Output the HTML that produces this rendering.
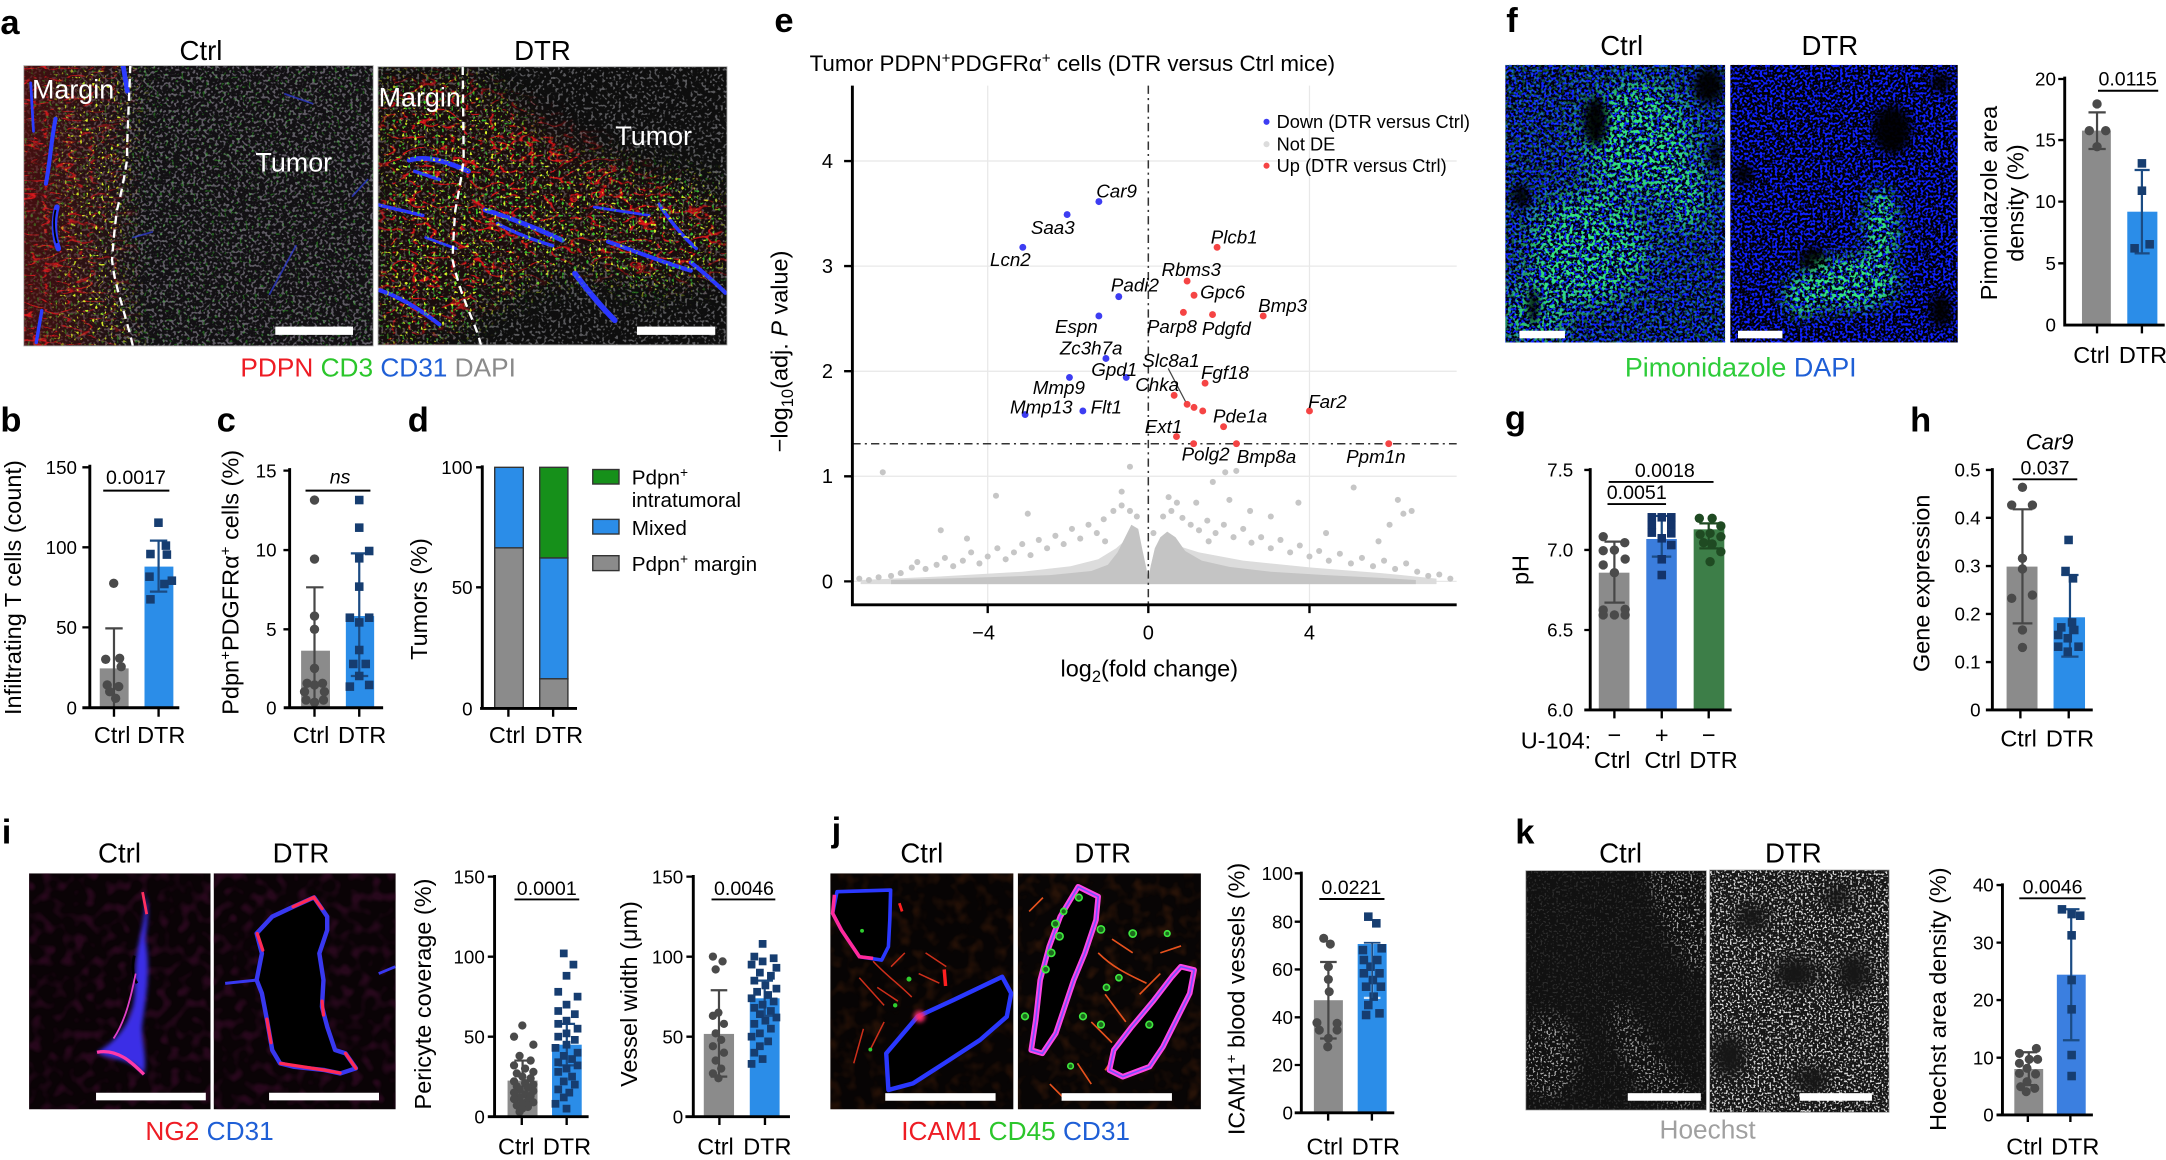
<!DOCTYPE html>
<html><head><meta charset="utf-8">
<style>
html,body{margin:0;padding:0;background:#fff;width:2166px;height:1160px;overflow:hidden}
svg{display:block}
text{font-family:"Liberation Sans",Arial,sans-serif}
.L{font-size:25px;font-weight:bold}
.T{font-size:13.6px;text-anchor:end}
.C{font-size:17px;text-anchor:middle}
.Y{font-size:17px;text-anchor:middle}
.S{font-size:14.2px;text-anchor:middle}
.H{font-size:20px;text-anchor:middle}
.ax{stroke:#000;stroke-width:2.1;fill:none}
.tk{stroke:#000;stroke-width:1.7;fill:none}
.sl{stroke:#000;stroke-width:1.4}
.eg{stroke:#474747;stroke-width:1.6;fill:none}
.en{stroke:#1b4b83;stroke-width:1.6;fill:none}
.pg{fill:#4a4a4a}
.pn{fill:#163d70}
.bg{fill:#8b8b8b}
.bb{fill:#2b8de8}
.gi{font-size:13.6px;font-style:italic}
</style></head><body>
<svg xmlns="http://www.w3.org/2000/svg" width="2166" height="1160" viewBox="0 0 1568 840">
<defs>
 <filter id="fNucG" x="0" y="0" width="1" height="1" color-interpolation-filters="sRGB">
  <feTurbulence type="fractalNoise" baseFrequency="0.5" numOctaves="1" seed="7"/>
  <feColorMatrix type="matrix" values="0 0 0 0 0.62 0 0 0 0 0.6 0 0 0 0 0.66 10 0 0 0 -5.3"/>
 </filter>
 <filter id="fNucG2" x="0" y="0" width="1" height="1" color-interpolation-filters="sRGB">
  <feTurbulence type="fractalNoise" baseFrequency="0.5" numOctaves="1" seed="19"/>
  <feColorMatrix type="matrix" values="0 0 0 0 0.55 0 0 0 0 0.55 0 0 0 0 0.57 10 0 0 0 -5.5"/>
 </filter>
 <filter id="fNucB" x="0" y="0" width="1" height="1" color-interpolation-filters="sRGB">
  <feTurbulence type="fractalNoise" baseFrequency="0.55" numOctaves="1" seed="11"/>
  <feColorMatrix type="matrix" values="0 0 0 0 0.06 0 0 0 0 0.13 0 0 0 0 1 8 0 0 0 -3.8"/>
 </filter>
 <filter id="fGrn" x="0" y="0" width="1" height="1" color-interpolation-filters="sRGB">
  <feTurbulence type="fractalNoise" baseFrequency="0.38" numOctaves="2" seed="5"/>
  <feColorMatrix type="matrix" values="0 0 0 0 0.2 0 0 0 0 0.9 0 0 0 0 0.5 8 0 0 0 -3.9"/>
 </filter>
 <filter id="fFib" x="0" y="0" width="1" height="1" color-interpolation-filters="sRGB">
  <feTurbulence type="turbulence" baseFrequency="0.06 0.16" numOctaves="2" seed="3"/>
  <feColorMatrix type="matrix" values="0 0 0 0 1 0 0 0 0 0.1 0 0 0 0 0.12 -12 0 0 0 1.5"/>
 </filter>
 <filter id="fNet" x="0" y="0" width="1" height="1" color-interpolation-filters="sRGB">
  <feTurbulence type="turbulence" baseFrequency="0.07 0.12" numOctaves="2" seed="8"/>
  <feColorMatrix type="matrix" values="0 0 0 0 1 0 0 0 0 0.08 0 0 0 0 0.1 -11 0 0 0 1.45"/>
 </filter>
 <filter id="fDotY" x="0" y="0" width="1" height="1" color-interpolation-filters="sRGB">
  <feTurbulence type="fractalNoise" baseFrequency="0.45" numOctaves="1" seed="21"/>
  <feColorMatrix type="matrix" values="0 0 0 0 0.85 0 0 0 0 0.95 0 0 0 0 0.15 12 0 0 0 -7.6"/>
 </filter>
 <filter id="fDotG" x="0" y="0" width="1" height="1" color-interpolation-filters="sRGB">
  <feTurbulence type="fractalNoise" baseFrequency="0.45" numOctaves="1" seed="33"/>
  <feColorMatrix type="matrix" values="0 0 0 0 0.25 0 0 0 0 0.9 0 0 0 0 0.2 12 0 0 0 -7.6"/>
 </filter>
 <filter id="fSpW" x="0" y="0" width="1" height="1" color-interpolation-filters="sRGB">
  <feTurbulence type="fractalNoise" baseFrequency="0.7" numOctaves="1" seed="13"/>
  <feColorMatrix type="matrix" values="0 0 0 0 1 0 0 0 0 1 0 0 0 0 1 10 0 0 0 -5.6"/>
 </filter>
 <filter id="fSpW2" x="0" y="0" width="1" height="1" color-interpolation-filters="sRGB">
  <feTurbulence type="fractalNoise" baseFrequency="0.7" numOctaves="1" seed="17"/>
  <feColorMatrix type="matrix" values="0 0 0 0 1 0 0 0 0 1 0 0 0 0 1 9 0 0 0 -4.8"/>
 </filter>
 <filter id="fPur" x="0" y="0" width="1" height="1" color-interpolation-filters="sRGB">
  <feTurbulence type="fractalNoise" baseFrequency="0.13" numOctaves="1" seed="2"/>
  <feColorMatrix type="matrix" values="0 0 0 0 0.3 0 0 0 0 0.06 0 0 0 0 0.22 4 0 0 0 -1.9"/>
 </filter>
 <filter id="fJbg" x="0" y="0" width="1" height="1" color-interpolation-filters="sRGB">
  <feTurbulence type="fractalNoise" baseFrequency="0.1" numOctaves="2" seed="4"/>
  <feColorMatrix type="matrix" values="0 0 0 0 0.35 0 0 0 0 0.16 0 0 0 0 0.05 3 0 0 0 -1.4"/>
 </filter>
 <filter id="bl2" x="-50%" y="-50%" width="200%" height="200%"><feGaussianBlur stdDeviation="1.5"/></filter>
 <filter id="bl4" x="-50%" y="-50%" width="200%" height="200%"><feGaussianBlur stdDeviation="3"/></filter>
 <filter id="bl5" x="-50%" y="-50%" width="200%" height="200%"><feGaussianBlur stdDeviation="5"/></filter>
 <filter id="bl9" x="-50%" y="-50%" width="200%" height="200%"><feGaussianBlur stdDeviation="9"/></filter>

 <linearGradient id="gMar" gradientUnits="userSpaceOnUse" x1="17" y1="0" x2="105" y2="0">
  <stop offset="0" stop-color="#fff"/><stop offset="0.55" stop-color="#fff" stop-opacity="0.75"/><stop offset="1" stop-color="#fff" stop-opacity="0"/>
 </linearGradient>
 <linearGradient id="gMarR" gradientUnits="userSpaceOnUse" x1="17" y1="0" x2="100" y2="0">
  <stop offset="0" stop-color="#5a0e0e" stop-opacity="0.7"/><stop offset="0.6" stop-color="#4a1212" stop-opacity="0.4"/><stop offset="1" stop-color="#4a1212" stop-opacity="0"/>
 </linearGradient>
 <mask id="mMar" maskUnits="userSpaceOnUse" x="17" y="47" width="100" height="204">
  <rect x="17" y="47" width="100" height="204" fill="url(#gMar)"/>
 </mask>
 <mask id="mMarDot" maskUnits="userSpaceOnUse" x="17" y="47" width="120" height="204">
  <g filter="url(#bl9)"><path d="M40 47 L100 47 L95 120 L88 180 L100 251 L35 251 L45 150 Z" fill="#fff"/></g>
 </mask>
 <mask id="mNet" maskUnits="userSpaceOnUse" x="273" y="47" width="254" height="204">
  <g filter="url(#bl9)">
   <path d="M273 60 L330 55 L380 80 L430 110 L470 130 L526 150 L526 200 L460 200 L420 190 L380 200 L330 230 L290 251 L273 251 Z" fill="#fff" fill-opacity="0.9"/>
  </g>
 </mask>
 <mask id="mDotD" maskUnits="userSpaceOnUse" x="273" y="47" width="254" height="204">
  <g filter="url(#bl9)">
   <path d="M273 55 L350 55 L400 110 L520 130 L526 200 L470 215 L420 200 L370 215 L320 251 L273 251 Z" fill="#fff"/>
  </g>
 </mask>
 <mask id="mFc" maskUnits="userSpaceOnUse" x="1089" y="46" width="162" height="204">
  <rect x="1089" y="46" width="162" height="204" fill="#fff" fill-opacity="0.3"/>
  <g filter="url(#bl9)" fill="#fff">
   <ellipse cx="1185" cy="100" rx="42" ry="42"/>
   <ellipse cx="1150" cy="180" rx="45" ry="42"/>
   <ellipse cx="1112" cy="225" rx="22" ry="25"/>
   <ellipse cx="1220" cy="140" rx="18" ry="28"/>
  </g>
 </mask>
 <mask id="mFd" maskUnits="userSpaceOnUse" x="1252" y="46" width="166" height="204">
  <g filter="url(#bl5)" fill="#fff">
   <ellipse cx="1340" cy="205" rx="36" ry="20"/>
   <ellipse cx="1362" cy="165" rx="13" ry="30"/>
   <ellipse cx="1306" cy="214" rx="15" ry="16"/>
  </g>
 </mask>
 <mask id="mKc" maskUnits="userSpaceOnUse" x="1104" y="630" width="132" height="175">
  <rect x="1104" y="630" width="132" height="175" fill="#fff" fill-opacity="0.12"/>
  <g filter="url(#bl5)" fill="#fff" fill-opacity="0.6">
   <path d="M1190 630 L1236 630 L1236 705 L1222 700 L1205 670 Z"/>
   <ellipse cx="1122" cy="765" rx="20" ry="30"/>
   <path d="M1168 725 L1182 735 L1205 770 L1230 800 L1212 804 L1182 782 L1168 748 Z"/>
  </g>
 </mask>
 <mask id="mKd" maskUnits="userSpaceOnUse" x="1237" y="630" width="131" height="176">
  <rect x="1237" y="630" width="131" height="176" fill="#fff" fill-opacity="0.85"/>
  <g filter="url(#bl5)" fill="#000">
   <ellipse cx="1268" cy="665" rx="12" ry="10"/>
   <ellipse cx="1300" cy="705" rx="16" ry="12"/>
   <ellipse cx="1252" cy="765" rx="12" ry="16"/>
   <ellipse cx="1342" cy="705" rx="12" ry="15"/>
   <ellipse cx="1312" cy="782" rx="12" ry="10"/>
   <ellipse cx="1330" cy="650" rx="10" ry="8"/>
  </g>
 </mask>
 <clipPath id="cA1"><rect x="17" y="47.5" width="253" height="203"/></clipPath>
 <clipPath id="cA2"><rect x="273.5" y="48.3" width="252.7" height="201.5"/></clipPath>
 <clipPath id="cF1"><rect x="1089.8" y="47" width="159.2" height="201"/></clipPath>
 <clipPath id="cF2"><rect x="1252.7" y="47" width="164.8" height="201"/></clipPath>
 <clipPath id="cI1"><rect x="20.8" y="632.4" width="131.4" height="170.9"/></clipPath>
 <clipPath id="cI2"><rect x="154.5" y="632.4" width="131.8" height="170.9"/></clipPath>
 <clipPath id="cJ1"><rect x="601" y="632.4" width="132.6" height="170.9"/></clipPath>
 <clipPath id="cJ2"><rect x="736.8" y="632.4" width="132.6" height="170.9"/></clipPath>
</defs>

<!-- ================= a ================= -->
<text class="L" x="0" y="24.5">a</text>
<text class="H" x="145.3" y="43.5">Ctrl</text>
<text class="H" x="392.6" y="43.5">DTR</text>
<g clip-path="url(#cA1)">
 <rect x="17" y="47.5" width="253" height="203" fill="#121013"/>
 <rect x="17" y="47.5" width="253" height="203" filter="url(#fNucG)" opacity="0.55"/>
 <rect x="17" y="47.5" width="90" height="203" fill="url(#gMarR)"/>
 <rect x="17" y="47.5" width="100" height="203" filter="url(#fFib)" mask="url(#mMar)" opacity="0.8"/>
 <rect x="17" y="47.5" width="120" height="203" filter="url(#fDotY)" mask="url(#mMarDot)"/>
 <rect x="17" y="47.5" width="253" height="203" filter="url(#fDotG)" opacity="0.35"/>
 <g stroke="#2c3cff" fill="none" stroke-linecap="round">
  <path d="M89 48 L92 66" stroke-width="3.5"/>
  <path d="M40 86 C 37 100, 36 118, 33 133" stroke-width="3"/>
  <path d="M41 150 C 38 160, 39 172, 42 180" stroke-width="4"/>
  <path d="M22 60 L24 95" stroke-width="2"/>
  <path d="M30 225 L26 248" stroke-width="2.5"/>
 </g>
 <g stroke="#3040e0" fill="none" stroke-linecap="round" stroke-width="1.3" opacity="0.7">
  <path d="M206 68 L226 75"/>
  <path d="M195 213 L214 178"/>
  <path d="M255 142 L266 130"/>
  <path d="M96 172 L110 168"/>
 </g>
 <path d="M40 152 C 38 160, 39 170, 41 176" stroke="#000" stroke-width="1.3" fill="none"/>
 <path d="M94.1 47 C 93 80, 91.7 100, 91.7 115.9 C 89 135, 84.5 152, 84.5 152 C 82 170, 80.9 188.3, 80.9 188.3 C 82 200, 85.7 212.4, 85.7 212.4 C 90 228, 95.3 246.2, 96 251" stroke="#fff" stroke-width="1.7" stroke-dasharray="6 4" fill="none"/>
 <text x="22.9" y="71.2" font-size="19.5" style="fill:#fff">Margin</text>
 <text x="184.7" y="124.3" font-size="19.5" style="fill:#fff">Tumor</text>
 <rect x="199.1" y="236.5" width="56.3" height="6" fill="#fff"/>
</g>
<rect x="17" y="47.5" width="253" height="203" fill="none" stroke="#aaa" stroke-width="0.6"/>
<g clip-path="url(#cA2)">
 <rect x="273.5" y="48.3" width="252.7" height="201.5" fill="#0e0e0e"/>
 <rect x="273.5" y="48.3" width="252.7" height="201.5" filter="url(#fNucG2)" opacity="0.6"/>
 <rect x="273.5" y="48.3" width="252.7" height="201.5" fill="#3a0a0a" mask="url(#mNet)" opacity="0.3"/>
 <rect x="273.5" y="48.3" width="252.7" height="201.5" filter="url(#fNet)" mask="url(#mNet)" opacity="0.95"/>
 <g stroke="#2a36ff" fill="none" stroke-linecap="round">
  <path d="M296 116 C 310 112, 325 118, 339 124" stroke-width="3.5"/>
  <path d="M300 124 L 318 130" stroke-width="2.5"/>
  <path d="M351 152 C 370 158, 390 166, 407 174" stroke-width="3.5"/>
  <path d="M360 162 C 375 170, 390 175, 400 178" stroke-width="2.5"/>
  <path d="M416 198 C 425 210, 435 222, 445 232" stroke-width="4"/>
  <path d="M440 175 C 460 182, 480 190, 500 196" stroke-width="3"/>
  <path d="M477 148 C 485 160, 495 172, 504 180" stroke-width="2.5"/>
  <path d="M500 190 C 510 198, 518 205, 525 212" stroke-width="3"/>
  <path d="M272 148 L 306 156" stroke-width="2.5"/>
  <path d="M274 210 C 290 215, 305 225, 318 235" stroke-width="3"/>
  <path d="M308 172 L 330 180" stroke-width="2"/>
  <path d="M430 150 L 470 156" stroke-width="2"/>
 </g>
 <rect x="273.5" y="48.3" width="252.7" height="201.5" filter="url(#fDotY)" mask="url(#mDotD)"/>
 <rect x="273.5" y="48.3" width="252.7" height="201.5" filter="url(#fDotG)" mask="url(#mDotD)" opacity="0.8"/>
 <path d="M334.8 48.3 C 335.2 80, 335.5 115.9, 335.5 115.9 C 333 135, 329.5 152, 329.5 152 C 328 170, 327.5 188.3, 327.5 188.3 C 330 200, 334.3 212.4, 334.3 212.4 C 340 228, 346.4 241.4, 348 250" stroke="#fff" stroke-width="1.7" stroke-dasharray="6 4" fill="none"/>
 <text x="273.9" y="77.2" font-size="19.5" style="fill:#fff">Margin</text>
 <text x="445.3" y="105" font-size="19.5" style="fill:#fff">Tumor</text>
 <rect x="461" y="236.5" width="56.7" height="6" fill="#fff"/>
</g>
<rect x="273.5" y="48.3" width="252.7" height="201.5" fill="none" stroke="#aaa" stroke-width="0.6"/>
<text x="273.6" y="272.8" font-size="19" text-anchor="middle"><tspan style="fill:#ee1c24">PDPN</tspan> <tspan style="fill:#2bc62b">CD3</tspan> <tspan style="fill:#1f5fd6">CD31</tspan> <tspan style="fill:#8a8a8a">DAPI</tspan></text>

<!-- ================= b ================= -->
<text class="L" x="0" y="312.6">b</text>
<rect class="bg" x="72" y="484" width="20.9" height="28.5"/>
<rect class="bb" x="104.4" y="410.3" width="20.9" height="102.2"/>
<path class="eg" d="M82.3 455V512M76 455H88.6"/>
<path class="en" d="M114.6 391.5V428.4M108.3 391.5H120.9M108.3 428.4H120.9"/>
<g class="pg">
 <circle cx="82.1" cy="422.4" r="3.4"/><circle cx="86.4" cy="476.7" r="3.4"/><circle cx="76.3" cy="477.4" r="3.4"/><circle cx="87.5" cy="482.8" r="3.4"/><circle cx="77.4" cy="496" r="3.4"/><circle cx="85.7" cy="497.2" r="3.4"/><circle cx="79.2" cy="500.9" r="3.4"/><circle cx="83.5" cy="505.7" r="3.4"/>
</g>
<g class="pn">
 <rect x="111.4" y="375.4" width="6.2" height="6.2"/><rect x="116.8" y="392" width="6.2" height="6.2"/><rect x="105.6" y="398.1" width="6.2" height="6.2"/><rect x="117.5" y="398.5" width="6.2" height="6.2"/><rect x="121.1" y="417.4" width="6.2" height="6.2"/><rect x="104.9" y="414.5" width="6.2" height="6.2"/><rect x="115.7" y="419.8" width="6.2" height="6.2"/><rect x="105.6" y="430.9" width="6.2" height="6.2"/>
</g>
<path class="ax" d="M64.8 336.5V513.5M59.4 512.5H129.6"/>
<path class="tk" d="M59.4 338.4H64.8M59.4 396.3H64.8M59.4 454.3H64.8M82.3 512.5V519M114.6 512.5V519"/>
<text class="T" x="55.5" y="343.2">150</text><text class="T" x="55.5" y="401.1">100</text><text class="T" x="55.5" y="459.1">50</text><text class="T" x="55.5" y="517.3">0</text>
<path class="sl" d="M74.5 355.3H122.4"/><text class="S" x="98.2" y="350.5">0.0017</text>
<text class="C" x="81" y="538">Ctrl</text><text class="C" x="116.5" y="538">DTR</text>
<text class="Y" transform="translate(15,425.5) rotate(-90)">Infiltrating T cells (count)</text>

<!-- ================= c ================= -->
<text class="L" x="156.6" y="312.6">c</text>
<rect class="bg" x="217.8" y="471.2" width="20.9" height="41.3"/>
<rect class="bb" x="250.2" y="446.1" width="20.5" height="66.4"/>
<path class="eg" d="M227.5 425.3V512M221.4 425.3H234"/>
<path class="en" d="M259.9 400.7V489.5M253.8 400.7H266.4M253.8 489.5H266.4"/>
<g class="pg">
 <circle cx="227.5" cy="362.1" r="3.4"/><circle cx="227.5" cy="404.8" r="3.4"/><circle cx="227.5" cy="446.1" r="3.4"/><circle cx="227.5" cy="455.7" r="3.4"/><circle cx="227.5" cy="484" r="3.4"/><circle cx="222.1" cy="494.8" r="3.4"/><circle cx="233.3" cy="494.8" r="3.4"/><circle cx="220.3" cy="500.9" r="3.4"/><circle cx="234.7" cy="500.9" r="3.4"/><circle cx="227.5" cy="496" r="3.4"/><circle cx="221.4" cy="506.9" r="3.4"/><circle cx="234" cy="506.9" r="3.4"/><circle cx="227.5" cy="508.6" r="3.4"/>
</g>
<g class="pn">
 <rect x="256.8" y="359" width="6.2" height="6.2"/><rect x="256.8" y="379" width="6.2" height="6.2"/><rect x="264" y="395.9" width="6.2" height="6.2"/><rect x="256.8" y="401.2" width="6.2" height="6.2"/><rect x="256.8" y="421.7" width="6.2" height="6.2"/><rect x="250" y="444.2" width="6.2" height="6.2"/><rect x="264" y="444.2" width="6.2" height="6.2"/><rect x="256.8" y="447.6" width="6.2" height="6.2"/><rect x="256.8" y="467.6" width="6.2" height="6.2"/><rect x="252.5" y="477.7" width="6.2" height="6.2"/><rect x="261.5" y="477.7" width="6.2" height="6.2"/><rect x="256.8" y="486.4" width="6.2" height="6.2"/><rect x="250" y="494.1" width="6.2" height="6.2"/><rect x="264" y="492.9" width="6.2" height="6.2"/>
</g>
<path class="ax" d="M209.5 339V513.5M205.2 512.5H277.2"/>
<path class="tk" d="M205 340.8H209.5M205 398.3H209.5M205 455.7H209.5M227.5 512.5V519M259.9 512.5V519"/>
<text class="T" x="200" y="345.6">15</text><text class="T" x="200" y="403.1">10</text><text class="T" x="200" y="460.5">5</text><text class="T" x="200" y="517.3">0</text>
<path class="sl" d="M221 355.3H268"/><text class="S" x="246" y="350" font-style="italic">ns</text>
<text class="C" x="225" y="538">Ctrl</text><text class="C" x="262" y="538">DTR</text>
<text class="Y" transform="translate(172.5,421.7) rotate(-90)">Pdpn<tspan dy="-6" font-size="11">+</tspan><tspan dy="6">PDGFRα</tspan><tspan dy="-6" font-size="11">+</tspan><tspan dy="6"> cells (%)</tspan></text>

<!-- ================= d ================= -->
<text class="L" x="295" y="312.6">d</text>
<g stroke="#333" stroke-width="1">
 <rect x="358" y="396.7" width="20.7" height="116.2" fill="#8b8b8b"/>
 <rect x="358" y="338.4" width="20.7" height="58.3" fill="#2b8de8"/>
 <rect x="390.6" y="491.5" width="20.4" height="21.4" fill="#8b8b8b"/>
 <rect x="390.6" y="404" width="20.4" height="87.5" fill="#2b8de8"/>
 <rect x="390.6" y="338.4" width="20.4" height="65.6" fill="#16901a"/>
</g>
<path class="ax" d="M349 337V514M347.4 513H417.6"/>
<path class="tk" d="M344.5 338.4H349M344.5 425.3H349M367.9 513V519M400.3 513V519"/>
<text class="T" x="342" y="343.2">100</text><text class="T" x="342" y="430.1">50</text><text class="T" x="342" y="518">0</text>
<text class="C" x="367" y="538">Ctrl</text><text class="C" x="404.5" y="538">DTR</text>
<text class="Y" transform="translate(309,433.8) rotate(-90)">Tumors (%)</text>
<g stroke="#333" stroke-width="1">
 <rect x="429" y="340" width="19" height="10.5" fill="#16901a"/>
 <rect x="429" y="376.1" width="19" height="10.6" fill="#2b8de8"/>
 <rect x="429" y="402.4" width="19" height="10.8" fill="#8b8b8b"/>
</g>
<text x="457.2" y="351" font-size="15">Pdpn<tspan dy="-5.5" font-size="10">+</tspan></text>
<text x="457.2" y="367" font-size="15">intratumoral</text>
<text x="457.2" y="387.3" font-size="15">Mixed</text>
<text x="457.2" y="413.5" font-size="15">Pdpn<tspan dy="-5.5" font-size="10">+</tspan><tspan dy="5.5"> margin</tspan></text>

<!-- ================= e ================= -->
<text class="L" x="560.5" y="23.3">e</text>
<text x="586" y="51.5" font-size="16.2">Tumor PDPN<tspan dy="-6" font-size="11">+</tspan><tspan dy="6">PDGFRα</tspan><tspan dy="-6" font-size="11">+</tspan><tspan dy="6"> cells (DTR versus Ctrl mice)</tspan></text>
<g stroke="#e8e8e8" stroke-width="0.9">
 <path d="M617 421H1054.6M617 344.9H1054.6M617 268.8H1054.6M617 192.7H1054.6M617 116.6H1054.6M715 62V438M948 62V438"/>
</g>
<!-- gray cloud -->
<path d="M623 423 L623 420 L680 417.5 L740 414 L775 410 L795 405 L808 397 L816 390 L822 392 L828 405 L831 418 L835 402 L842 393 L852 395 L868 400 L900 406 L950 411 L1000 415 L1040 419 L1040 423 Z" fill="#dcdcdc"/>
<path d="M645 423 L645 420 L700 418.5 L760 416.5 L790 413.5 L802 409 L809 400 L814 390 L819 380 L824 383 L827 398 L830 412 L831.3 421 L833 410 L836 397 L840 389 L845 385 L851 389 L858 399 L870 406 L890 410.5 L920 414 L960 416.5 L1000 418.5 L1025 420 L1025 423 Z" fill="#c4c4c4"/>
<g fill="#c6c6c6">
 <circle cx="622" cy="419" r="2.2"/><circle cx="629" cy="420" r="2.2"/><circle cx="636" cy="418" r="2.2"/><circle cx="645" cy="417" r="2.2"/><circle cx="652" cy="415" r="2.2"/><circle cx="660" cy="411" r="2.2"/><circle cx="664" cy="407" r="2.2"/><circle cx="670" cy="412" r="2.2"/><circle cx="678" cy="409" r="2.2"/><circle cx="684" cy="404" r="2.2"/><circle cx="690" cy="410" r="2.2"/><circle cx="697" cy="406" r="2.2"/><circle cx="703" cy="400" r="2.2"/><circle cx="709" cy="408" r="2.2"/><circle cx="715" cy="403" r="2.2"/><circle cx="722" cy="397" r="2.2"/><circle cx="728" cy="405" r="2.2"/><circle cx="734" cy="400" r="2.2"/><circle cx="740" cy="394" r="2.2"/><circle cx="746" cy="402" r="2.2"/><circle cx="752" cy="391" r="2.2"/><circle cx="758" cy="397" r="2.2"/><circle cx="764" cy="388" r="2.2"/><circle cx="770" cy="394" r="2.2"/><circle cx="776" cy="383" r="2.2"/><circle cx="782" cy="390" r="2.2"/><circle cx="788" cy="380" r="2.2"/><circle cx="794" cy="386" r="2.2"/><circle cx="799" cy="376" r="2.2"/><circle cx="806" cy="370" r="2.2"/><circle cx="812" cy="366" r="2.2"/><circle cx="818" cy="370" r="2.2"/><circle cx="823" cy="374" r="2.2"/>
 <circle cx="639" cy="342" r="2.2"/><circle cx="681" cy="384" r="2.2"/><circle cx="721" cy="359" r="2.2"/><circle cx="818" cy="338" r="2.2"/><circle cx="842" cy="374" r="2.2"/><circle cx="848" cy="370" r="2.2"/><circle cx="856" cy="375" r="2.2"/><circle cx="862" cy="380" r="2.2"/><circle cx="868" cy="384" r="2.2"/><circle cx="874" cy="377" r="2.2"/><circle cx="880" cy="386" r="2.2"/><circle cx="886" cy="380" r="2.2"/><circle cx="893" cy="389" r="2.2"/><circle cx="900" cy="383" r="2.2"/><circle cx="906" cy="393" r="2.2"/><circle cx="913" cy="389" r="2.2"/><circle cx="920" cy="397" r="2.2"/><circle cx="927" cy="391" r="2.2"/><circle cx="934" cy="400" r="2.2"/><circle cx="941" cy="395" r="2.2"/><circle cx="948" cy="403" r="2.2"/><circle cx="955" cy="399" r="2.2"/><circle cx="962" cy="406" r="2.2"/><circle cx="970" cy="401" r="2.2"/><circle cx="978" cy="408" r="2.2"/><circle cx="986" cy="404" r="2.2"/><circle cx="994" cy="410" r="2.2"/><circle cx="1002" cy="406" r="2.2"/><circle cx="1010" cy="412" r="2.2"/><circle cx="1018" cy="408" r="2.2"/><circle cx="1026" cy="414" r="2.2"/><circle cx="1034" cy="417" r="2.2"/><circle cx="1042" cy="416" r="2.2"/><circle cx="1050" cy="419" r="2.2"/>
 <circle cx="878" cy="349" r="2.2"/><circle cx="887" cy="342" r="2.2"/><circle cx="895" cy="341" r="2.2"/><circle cx="940" cy="364" r="2.2"/><circle cx="980" cy="353" r="2.2"/><circle cx="1012" cy="362" r="2.2"/><circle cx="1016" cy="372" r="2.2"/><circle cx="1022" cy="370" r="2.2"/><circle cx="1006" cy="380" r="2.2"/><circle cx="998" cy="392" r="2.2"/><circle cx="866" cy="364" r="2.2"/><circle cx="875" cy="392" r="2.2"/><circle cx="905" cy="370" r="2.2"/><circle cx="890" cy="362" r="2.2"/><circle cx="846" cy="360" r="2.2"/><circle cx="852" cy="364" r="2.2"/><circle cx="812" cy="356" r="2.2"/><circle cx="920" cy="374" r="2.2"/><circle cx="960" cy="386" r="2.2"/><circle cx="835" cy="386" r="2.2"/><circle cx="800" cy="392" r="2.2"/><circle cx="744" cy="372" r="2.2"/><circle cx="700" cy="390" r="2.2"/>
</g>
<g stroke="#333" stroke-width="1.1" fill="none" stroke-dasharray="6 3 1.5 3">
 <path d="M831.3 62V438"/><path d="M617 321.3H1054.6"/>
</g>
<path d="M845.7 266.8 L858.4 291.1" stroke="#444" stroke-width="0.9"/>
<g fill="#3d3df2">
 <circle cx="795.5" cy="146" r="2.5"/><circle cx="772.5" cy="155.4" r="2.5"/><circle cx="740.4" cy="179.1" r="2.5"/><circle cx="809.9" cy="214.8" r="2.5"/><circle cx="795.5" cy="228.8" r="2.5"/><circle cx="800.6" cy="259.6" r="2.5"/><circle cx="815.3" cy="273.3" r="2.5"/><circle cx="774.2" cy="273.3" r="2.5"/><circle cx="742.1" cy="300.2" r="2.5"/><circle cx="783.9" cy="297.6" r="2.5"/>
</g>
<g fill="#f54444">
 <circle cx="881.1" cy="179.1" r="2.5"/><circle cx="859.4" cy="203.5" r="2.5"/><circle cx="864.4" cy="213.8" r="2.5"/><circle cx="856.7" cy="226.2" r="2.5"/><circle cx="877.8" cy="227.8" r="2.5"/><circle cx="914.5" cy="228.8" r="2.5"/><circle cx="859.4" cy="292.8" r="2.5"/><circle cx="872.4" cy="277.5" r="2.5"/><circle cx="850" cy="286.3" r="2.5"/><circle cx="864.4" cy="295" r="2.5"/><circle cx="870.7" cy="297.6" r="2.5"/><circle cx="885.8" cy="309" r="2.5"/><circle cx="851.7" cy="316.1" r="2.5"/><circle cx="864.1" cy="321.3" r="2.5"/><circle cx="895.1" cy="321.3" r="2.5"/><circle cx="948" cy="297.6" r="2.5"/><circle cx="1005.4" cy="321.3" r="2.5"/>
</g>
<g class="gi" text-anchor="middle">
 <text x="808.3" y="143">Car9</text><text x="762.1" y="169.3">Saa3</text><text x="731.4" y="192.7">Lcn2</text><text x="821.6" y="211.2">Padi2</text><text x="779.2" y="241">Espn</text><text x="789.9" y="256.7">Zc3h7a</text><text x="806.6" y="272.3">Gpd1</text><text x="766.5" y="285.2">Mmp9</text><text x="753.8" y="299.5">Mmp13</text><text x="800.9" y="299.5">Flt1</text>
 <text x="893.5" y="176.5">Plcb1</text><text x="862.4" y="199.8">Rbms3</text><text x="885.1" y="216">Gpc6</text><text x="848.4" y="241">Parp8</text><text x="887.8" y="242.7">Pdgfd</text><text x="928.6" y="225.8">Bmp3</text><text x="847.7" y="265.8">Slc8a1</text><text x="886.8" y="274.5">Fgf18</text><text x="837.7" y="283.3">Chka</text><text x="897.8" y="306">Pde1a</text><text x="842.3" y="313.5">Ext1</text><text x="872.8" y="333.6">Polg2</text><text x="916.9" y="335.2">Bmp8a</text><text x="961" y="295.6">Far2</text><text x="996.1" y="335.2">Ppm1n</text>
</g>
<circle cx="916.9" cy="88.2" r="2.2" fill="#3d3df2"/><circle cx="916.9" cy="104.4" r="2.2" fill="#dcdcdc"/><circle cx="916.9" cy="120" r="2.2" fill="#f54444"/>
<g font-size="13.2"><text x="924.2" y="92.8">Down (DTR versus Ctrl)</text><text x="924.2" y="109">Not DE</text><text x="924.2" y="124.6">Up (DTR versus Ctrl)</text></g>
<path class="ax" d="M617 62V439M616 438H1054.6"/>
<path class="tk" d="M611 421H617M611 344.9H617M611 268.8H617M611 192.7H617M611 116.6H617M715 438V444M831.3 438V444M948 438V444"/>
<g font-size="14.5" text-anchor="end"><text x="603" y="426">0</text><text x="603" y="349.9">1</text><text x="603" y="273.8">2</text><text x="603" y="197.7">3</text><text x="603" y="121.6">4</text></g>
<g font-size="14.5" text-anchor="middle"><text x="712" y="463">−4</text><text x="831.3" y="463">0</text><text x="948" y="463">4</text></g>
<text class="Y" x="832" y="490">log<tspan dy="4" font-size="12">2</tspan><tspan dy="-4">(fold change)</tspan></text>
<text class="Y" transform="translate(570,254.5) rotate(-90)">−log<tspan dy="4" font-size="12">10</tspan><tspan dy="-4">(adj. </tspan><tspan font-style="italic">P</tspan> value)</text>

<!-- ================= f ================= -->
<text class="L" x="1090.5" y="23">f</text>
<text class="H" x="1174.1" y="40">Ctrl</text>
<text class="H" x="1324.8" y="40">DTR</text>
<g clip-path="url(#cF1)">
 <rect x="1089.8" y="47" width="159.2" height="201" fill="#00000a"/>
 <rect x="1089.8" y="47" width="159.2" height="201" filter="url(#fNucB)"/>
 <rect x="1089.8" y="47" width="159.2" height="201" filter="url(#fGrn)" mask="url(#mFc)"/>
 <g filter="url(#bl4)" fill="#000" opacity="0.95">
  <ellipse cx="1155" cy="88" rx="9" ry="18"/><ellipse cx="1237" cy="62" rx="11" ry="13"/><ellipse cx="1101" cy="142" rx="6" ry="9"/><ellipse cx="1110" cy="222" rx="4" ry="14"/><ellipse cx="1242" cy="112" rx="4" ry="10"/>
 </g>
 <rect x="1100" y="239.5" width="33" height="5.5" fill="#fff"/>
</g>
<g clip-path="url(#cF2)">
 <rect x="1252.7" y="47" width="164.8" height="201" fill="#000006"/>
 <rect x="1252.7" y="47" width="164.8" height="201" filter="url(#fNucB)"/>
 <g filter="url(#bl4)" fill="#000" opacity="0.95">
  <ellipse cx="1370" cy="94" rx="14" ry="18"/><ellipse cx="1262" cy="126" rx="7" ry="7"/><ellipse cx="1313" cy="188" rx="10" ry="9"/><ellipse cx="1405" cy="225" rx="8" ry="12"/><ellipse cx="1405" cy="60" rx="7" ry="7"/>
 </g>
 <rect x="1252.7" y="47" width="164.8" height="201" filter="url(#fGrn)" mask="url(#mFd)"/>
 <rect x="1258.3" y="239.5" width="32.2" height="5.5" fill="#fff"/>
</g>
<text x="1260.3" y="272.8" font-size="19.5" text-anchor="middle"><tspan style="fill:#2ecc3a">Pimonidazole</tspan> <tspan style="fill:#1f5fd6">DAPI</tspan></text>
<rect class="bg" x="1507.4" y="94.6" width="20.9" height="140.8"/>
<rect class="bb" x="1540.2" y="153.3" width="21.8" height="82.1"/>
<path class="eg" d="M1518.3 81.4V107.9M1512.1 81.4H1524.6M1512.1 107.9H1524.6"/>
<path class="en" d="M1550.8 123.1V183.5M1545.5 123.1H1556.4M1545.5 183.5H1556.4"/>
<g class="pg"><circle cx="1518.3" cy="75.3" r="3.4"/><circle cx="1512.7" cy="94.6" r="3.4"/><circle cx="1524.6" cy="94.6" r="3.4"/><circle cx="1518.3" cy="106.2" r="3.4"/></g>
<g class="pn"><rect x="1547.7" y="115.2" width="6.2" height="6.2"/><rect x="1547.7" y="135" width="6.2" height="6.2"/><rect x="1542.4" y="176.7" width="6.2" height="6.2"/><rect x="1553.3" y="173.8" width="6.2" height="6.2"/></g>
<path class="ax" d="M1494.9 55.5V236.4M1494 235.4H1567.3"/>
<path class="tk" d="M1490.2 57.2H1494.9M1490.2 101.4H1494.9M1490.2 146H1494.9M1490.2 190.7H1494.9M1518.3 235.4V241.4M1550.8 235.4V241.4"/>
<text class="T" x="1488.5" y="62">20</text><text class="T" x="1488.5" y="106.2">15</text><text class="T" x="1488.5" y="150.8">10</text><text class="T" x="1488.5" y="195.5">5</text><text class="T" x="1488.5" y="240.2">0</text>
<path class="sl" d="M1519 65.7H1562.6"/><text class="S" x="1540.5" y="62">0.0115</text>
<text class="C" x="1514.3" y="263">Ctrl</text><text class="C" x="1551.6" y="263">DTR</text>
<text class="Y" transform="translate(1446,147) rotate(-90)">Pimonidazole area</text>
<text class="Y" transform="translate(1465,147) rotate(-90)">density (%)</text>

<!-- ================= g ================= -->
<text class="L" x="1089.5" y="311">g</text>
<rect class="bg" x="1157.5" y="414.7" width="22.2" height="99.4"/>
<rect x="1191.9" y="390.3" width="22.1" height="123.8" fill="#3b7ddc"/>
<rect x="1226.2" y="383.3" width="22.2" height="130.8" fill="#3d7e48"/>
<path class="eg" d="M1168.8 392.2V436.4M1161.6 392.2H1176.3M1161.6 436.4H1176.3"/>
<path class="en" d="M1203.1 373.6V403.1M1195.9 373.6H1210M1195.9 403.1H1210"/>
<path d="M1237.1 379V397.1M1230.3 379H1244.3M1230.3 397.1H1244.3" stroke="#1f4a22" stroke-width="1.6" fill="none"/>
<g class="pg">
 <circle cx="1160.7" cy="388.6" r="3.4"/><circle cx="1176.3" cy="393" r="3.4"/><circle cx="1160.7" cy="398.8" r="3.4"/><circle cx="1168.8" cy="398.3" r="3.4"/><circle cx="1176.6" cy="404.8" r="3.4"/><circle cx="1160.7" cy="409.1" r="3.4"/><circle cx="1168.8" cy="414.7" r="3.4"/><circle cx="1160.7" cy="441.7" r="3.4"/><circle cx="1176.6" cy="441.2" r="3.4"/><circle cx="1160.7" cy="445.3" r="3.4"/><circle cx="1168.8" cy="445.3" r="3.4"/><circle cx="1176.6" cy="445.3" r="3.4"/>
</g>
<g fill="#13336a">
 <rect x="1192.8" y="371.5" width="6.2" height="6.2"/><rect x="1200" y="371.5" width="6.2" height="6.2"/><rect x="1206.9" y="371.5" width="6.2" height="6.2"/><rect x="1192.8" y="377.1" width="6.2" height="6.2"/><rect x="1206.9" y="377.1" width="6.2" height="6.2"/><rect x="1192.8" y="382.6" width="6.2" height="6.2"/><rect x="1206.9" y="383.1" width="6.2" height="6.2"/><rect x="1200" y="386.7" width="6.2" height="6.2"/><rect x="1206.9" y="391.6" width="6.2" height="6.2"/><rect x="1200" y="401.9" width="6.2" height="6.2"/><rect x="1200" y="413.3" width="6.2" height="6.2"/>
</g>
<g fill="#1f4a22">
 <circle cx="1230.3" cy="375.3" r="3.4"/><circle cx="1239.6" cy="375.3" r="3.4"/><circle cx="1245.9" cy="380.9" r="3.4"/><circle cx="1230.9" cy="386.9" r="3.4"/><circle cx="1238.1" cy="386.2" r="3.4"/><circle cx="1245.9" cy="388.6" r="3.4"/><circle cx="1233.4" cy="393" r="3.4"/><circle cx="1239.6" cy="393.9" r="3.4"/><circle cx="1245.9" cy="399.5" r="3.4"/><circle cx="1238.1" cy="406.7" r="3.4"/>
</g>
<path class="ax" d="M1151.3 339V515.1M1147 514.1H1253.7"/>
<path class="tk" d="M1147 340.3H1151.3M1147 398.2H1151.3M1147 456.2H1151.3M1168.8 514.1V520.2M1203.1 514.1V520.2M1237.1 514.1V520.2"/>
<text class="T" x="1139" y="345.1">7.5</text><text class="T" x="1139" y="403">7.0</text><text class="T" x="1139" y="461">6.5</text><text class="T" x="1139" y="518.9">6.0</text>
<path class="sl" d="M1164.7 349H1240.6M1163.8 365H1206.2"/>
<text class="S" x="1205.3" y="345.5">0.0018</text><text class="S" x="1185" y="361.5">0.0051</text>
<text x="1152" y="542" font-size="17" text-anchor="end">U-104:</text>
<text class="C" x="1168.8" y="538">−</text><text class="C" x="1203.1" y="538">+</text><text class="C" x="1237.1" y="538">−</text>
<text class="C" x="1167.2" y="556">Ctrl</text><text class="C" x="1203.7" y="556">Ctrl</text><text class="C" x="1240.6" y="556">DTR</text>
<text class="Y" transform="translate(1106.5,412.8) rotate(-90)">pH</text>

<!-- ================= h ================= -->
<text class="L" x="1383" y="312.6">h</text>
<text x="1484" y="325.5" font-size="16" font-style="italic" text-anchor="middle">Car9</text>
<rect class="bg" x="1452.8" y="410.3" width="22.4" height="103.8"/>
<rect class="bb" x="1486.8" y="447" width="22.8" height="67.1"/>
<path class="eg" d="M1464.3 368.8V451.4M1457.2 368.8H1471.5M1457.2 451.4H1471.5"/>
<path class="en" d="M1498.7 416.4V475.5M1492.4 416.4H1504.9M1492.4 475.5H1504.9"/>
<g class="pg">
 <circle cx="1464.3" cy="352.9" r="3.4"/><circle cx="1456.5" cy="365.7" r="3.4"/><circle cx="1471.5" cy="365.7" r="3.4"/><circle cx="1464.3" cy="404.3" r="3.4"/><circle cx="1464.3" cy="412" r="3.4"/><circle cx="1456.5" cy="433.3" r="3.4"/><circle cx="1471.5" cy="430.9" r="3.4"/><circle cx="1464.3" cy="456.2" r="3.4"/><circle cx="1464.3" cy="468.8" r="3.4"/>
</g>
<g class="pn">
 <rect x="1494.6" y="387.9" width="6.2" height="6.2"/><rect x="1492.4" y="410.4" width="6.2" height="6.2"/><rect x="1497.8" y="415.7" width="6.2" height="6.2"/><rect x="1497.1" y="447.6" width="6.2" height="6.2"/><rect x="1489.3" y="451.2" width="6.2" height="6.2"/><rect x="1498.7" y="453.1" width="6.2" height="6.2"/><rect x="1487.1" y="456.7" width="6.2" height="6.2"/><rect x="1494" y="459.1" width="6.2" height="6.2"/><rect x="1487.1" y="465.2" width="6.2" height="6.2"/><rect x="1501.8" y="465.2" width="6.2" height="6.2"/><rect x="1494" y="468.8" width="6.2" height="6.2"/>
</g>
<path class="ax" d="M1442.5 339V515.1M1437.8 514.1H1515.2"/>
<path class="tk" d="M1437.8 340.3H1442.5M1437.8 375H1442.5M1437.8 409.9H1442.5M1437.8 444.6H1442.5M1437.8 479.4H1442.5M1462.8 514.1V520.2M1497.8 514.1V520.2"/>
<text class="T" x="1434" y="345.1">0.5</text><text class="T" x="1434" y="379.8">0.4</text><text class="T" x="1434" y="414.7">0.3</text><text class="T" x="1434" y="449.4">0.2</text><text class="T" x="1434" y="484.2">0.1</text><text class="T" x="1434" y="518.9">0</text>
<path class="sl" d="M1457.2 347.1H1504"/><text class="S" x="1480.6" y="343.5">0.037</text>
<text class="C" x="1461.5" y="540.7">Ctrl</text><text class="C" x="1498.7" y="540.7">DTR</text>
<text class="Y" transform="translate(1397,422.4) rotate(-90)">Gene expression</text>

<!-- ================= i ================= -->
<text class="L" x="1" y="610.7">i</text>
<text class="H" x="86.3" y="624.7">Ctrl</text>
<text class="H" x="217.7" y="624.7">DTR</text>
<g clip-path="url(#cI1)">
 <rect x="20.8" y="632.4" width="131.4" height="170.9" fill="#0a0306"/>
 <rect x="20.8" y="632.4" width="131.4" height="170.9" filter="url(#fPur)" opacity="0.45"/>
 <path d="M104 646 C 107 660, 101 676, 99 690 C 96 705, 100 720, 94 735 C 89 748, 80 756, 70 762 C 80 768, 96 766, 104 778 C 107 764, 101 752, 103 740 C 106 720, 109 700, 105 680 C 107 665, 108 655, 104 646 Z" fill="#3a2ee6" filter="url(#bl2)"/>
 <path d="M97 692 C 95 700, 96 708, 99 712" stroke="#000" stroke-width="2" fill="none"/>
 <path d="M70 762 C 85 759, 96 770, 104 778" stroke="#ff3aa8" stroke-width="2.4" fill="none"/>
 <path d="M98 705 C 94 725, 90 740, 82 752" stroke="#e040c8" stroke-width="1.3" fill="none"/>
 <path d="M103 646 L106 662" stroke="#ff3060" stroke-width="2" fill="none"/>
 <rect x="69.3" y="791.3" width="79.5" height="5.5" fill="#fff"/>
</g>
<g clip-path="url(#cI2)">
 <rect x="154.5" y="632.4" width="131.8" height="170.9" fill="#0a0306"/>
 <rect x="154.5" y="632.4" width="131.8" height="170.9" filter="url(#fPur)" opacity="0.45"/>
 <path d="M227.2 649.8 L236.7 663.8 L236.7 673.5 L231 690.4 L234 709.7 L232.9 729 L236.7 743.5 L242.4 760.4 L250 762.8 L257.5 773.6 L246.2 777.3 L234.8 774.9 L212.1 772.4 L202.6 770 L196.9 760.4 L193.1 738.6 L189.4 719.3 L185.6 709.7 L189.4 690.4 L185.6 675.9 L196.9 663.8 L212.1 656.6 Z" fill="#000" stroke="#3838f0" stroke-width="3.2" stroke-linejoin="round"/>
 <path d="M185.6 709.7 L162.8 712.1" stroke="#3838f0" stroke-width="2.2"/>
 <path d="M274 705 L286 700" stroke="#3838f0" stroke-width="2"/>
 <g stroke="#ff2a55" stroke-width="2.4" fill="none" stroke-linecap="round">
  <path d="M212 656.6 L227 649.8 L233 658"/>
  <path d="M186 676 L190 688"/>
  <path d="M233 725 L234 735"/>
  <path d="M203 770 L234.8 774.9 L246 777"/>
  <path d="M250 762.8 L257.5 773.6"/>
  <path d="M193 738 L196 755"/>
 </g>
 <rect x="194.6" y="791.3" width="79.6" height="5.5" fill="#fff"/>
</g>
<text x="151.5" y="825.5" font-size="19" text-anchor="middle"><tspan style="fill:#ee1c24">NG2</tspan> <tspan style="fill:#1f5fd6">CD31</tspan></text>

<rect class="bg" x="367.3" y="782.5" width="21.7" height="26.1"/>
<rect class="bb" x="399.5" y="756.5" width="21.5" height="52.1"/>
<path class="eg" d="M378.2 768V797M372.2 768H384.2M372.2 797H384.2"/>
<path class="en" d="M410.2 741.4V771.5M404.2 741.4H416.2M404.2 771.5H416.2"/>
<g class="pg">
 <circle cx="378" cy="742.6" r="3"/><circle cx="372" cy="750.7" r="3"/><circle cx="386" cy="756.5" r="3"/><circle cx="376" cy="764.6" r="3"/><circle cx="384" cy="768" r="3"/><circle cx="372" cy="771.5" r="3"/><circle cx="380" cy="773.8" r="3"/><circle cx="386" cy="776.2" r="3"/><circle cx="374" cy="777.3" r="3"/><circle cx="378" cy="779.6" r="3"/><circle cx="384" cy="780.8" r="3"/><circle cx="372" cy="783.1" r="3"/><circle cx="380" cy="784.3" r="3"/><circle cx="386" cy="785.4" r="3"/><circle cx="374" cy="786.6" r="3"/><circle cx="382" cy="787.7" r="3"/><circle cx="376" cy="788.9" r="3"/><circle cx="386" cy="790.1" r="3"/><circle cx="372" cy="791.2" r="3"/><circle cx="380" cy="792.4" r="3"/><circle cx="384" cy="793.5" r="3"/><circle cx="376" cy="794.7" r="3"/><circle cx="372" cy="795.9" r="3"/><circle cx="382" cy="797" r="3"/><circle cx="386" cy="798.2" r="3"/><circle cx="378" cy="799.3" r="3"/><circle cx="374" cy="800.5" r="3"/><circle cx="382" cy="801.6" r="3"/><circle cx="378" cy="802.8" r="3"/><circle cx="376" cy="805.1" r="3"/>
</g>
<g class="pn">
 <rect x="405.2" y="687.6" width="5.6" height="5.6"/><rect x="412.2" y="695.7" width="5.6" height="5.6"/><rect x="407.2" y="703.8" width="5.6" height="5.6"/><rect x="401.2" y="715.4" width="5.6" height="5.6"/><rect x="415.2" y="718.9" width="5.6" height="5.6"/><rect x="407.2" y="724.7" width="5.6" height="5.6"/><rect x="401.2" y="729.3" width="5.6" height="5.6"/><rect x="413.2" y="731.6" width="5.6" height="5.6"/><rect x="407.2" y="736.3" width="5.6" height="5.6"/><rect x="401.2" y="738.6" width="5.6" height="5.6"/><rect x="415.2" y="742.1" width="5.6" height="5.6"/><rect x="407.2" y="745.5" width="5.6" height="5.6"/><rect x="401.2" y="747.9" width="5.6" height="5.6"/><rect x="413.2" y="750.2" width="5.6" height="5.6"/><rect x="407.2" y="753.7" width="5.6" height="5.6"/><rect x="399.2" y="756" width="5.6" height="5.6"/><rect x="415.2" y="759.5" width="5.6" height="5.6"/><rect x="405.2" y="761.8" width="5.6" height="5.6"/><rect x="411.2" y="764.1" width="5.6" height="5.6"/><rect x="401.2" y="766.4" width="5.6" height="5.6"/><rect x="415.2" y="768.7" width="5.6" height="5.6"/><rect x="407.2" y="771" width="5.6" height="5.6"/><rect x="401.2" y="773.4" width="5.6" height="5.6"/><rect x="411.2" y="776.8" width="5.6" height="5.6"/><rect x="405.2" y="780.3" width="5.6" height="5.6"/><rect x="413.2" y="782.6" width="5.6" height="5.6"/><rect x="401.2" y="786.1" width="5.6" height="5.6"/><rect x="409.2" y="788.4" width="5.6" height="5.6"/><rect x="405.2" y="791.9" width="5.6" height="5.6"/><rect x="399.2" y="796.5" width="5.6" height="5.6"/><rect x="407.2" y="800" width="5.6" height="5.6"/>
</g>
<path class="ax" d="M357.9 633.6V809.6M353 808.6H426"/>
<path class="tk" d="M353 634.8H357.9M353 692.8H357.9M353 750.7H357.9M377.6 808.6V814.7M410.1 808.6V814.7"/>
<text class="T" x="350.8" y="639.6">150</text><text class="T" x="350.8" y="697.6">100</text><text class="T" x="350.8" y="755.5">50</text><text class="T" x="350.8" y="813.4">0</text>
<path class="sl" d="M372.3 651.3H419.2"/><text class="S" x="395.7" y="648">0.0001</text>
<text class="C" x="373.6" y="836">Ctrl</text><text class="C" x="410.3" y="836">DTR</text>
<text class="Y" transform="translate(312,719.8) rotate(-90)">Pericyte coverage (%)</text>

<rect class="bg" x="509.4" y="748.7" width="21.9" height="59.9"/>
<rect class="bb" x="542.7" y="722.9" width="21.6" height="85.7"/>
<path class="eg" d="M520.4 717.1V779.6M514.4 717.1H526.4M514.4 779.6H526.4"/>
<path class="en" d="M553.5 710.1V735.6M547.5 710.1H559.5M547.5 735.6H559.5"/>
<g class="pg">
 <circle cx="516" cy="692.7" r="3"/><circle cx="523" cy="696.2" r="3"/><circle cx="518" cy="702" r="3"/><circle cx="520" cy="733.3" r="3"/><circle cx="516" cy="735.6" r="3"/><circle cx="524" cy="741.4" r="3"/><circle cx="518" cy="748.3" r="3"/><circle cx="522" cy="753" r="3"/><circle cx="516" cy="757.6" r="3"/><circle cx="524" cy="762.3" r="3"/><circle cx="518" cy="768" r="3"/><circle cx="522" cy="773.8" r="3"/><circle cx="516" cy="777.3" r="3"/><circle cx="520" cy="780.8" r="3"/>
</g>
<g class="pn">
 <rect x="549.2" y="680.7" width="5.6" height="5.6"/><rect x="543.2" y="689.9" width="5.6" height="5.6"/><rect x="557.2" y="691.1" width="5.6" height="5.6"/><rect x="549.2" y="693.4" width="5.6" height="5.6"/><rect x="541.2" y="695.7" width="5.6" height="5.6"/><rect x="559.2" y="698" width="5.6" height="5.6"/><rect x="547.2" y="701.5" width="5.6" height="5.6"/><rect x="555.2" y="703.8" width="5.6" height="5.6"/><rect x="543.2" y="707.3" width="5.6" height="5.6"/><rect x="551.2" y="710.8" width="5.6" height="5.6"/><rect x="559.2" y="713.1" width="5.6" height="5.6"/><rect x="545.2" y="715.4" width="5.6" height="5.6"/><rect x="553.2" y="717.7" width="5.6" height="5.6"/><rect x="541.2" y="720.1" width="5.6" height="5.6"/><rect x="557.2" y="722.4" width="5.6" height="5.6"/><rect x="549.2" y="724.7" width="5.6" height="5.6"/><rect x="543.2" y="727" width="5.6" height="5.6"/><rect x="555.2" y="729.3" width="5.6" height="5.6"/><rect x="547.2" y="731.6" width="5.6" height="5.6"/><rect x="559.2" y="734" width="5.6" height="5.6"/><rect x="551.2" y="736.3" width="5.6" height="5.6"/><rect x="543.2" y="738.6" width="5.6" height="5.6"/><rect x="555.2" y="742.1" width="5.6" height="5.6"/><rect x="547.2" y="745.5" width="5.6" height="5.6"/><rect x="541.2" y="747.9" width="5.6" height="5.6"/><rect x="553.2" y="751.3" width="5.6" height="5.6"/><rect x="547.2" y="754.8" width="5.6" height="5.6"/><rect x="543.2" y="759.5" width="5.6" height="5.6"/><rect x="549.2" y="764.1" width="5.6" height="5.6"/><rect x="541.2" y="767.6" width="5.6" height="5.6"/>
</g>
<path class="ax" d="M501.8 633.6V809.6M496.1 808.6H571.8"/>
<path class="tk" d="M496.8 634.8H501.8M496.8 692.8H501.8M496.8 750.7H501.8M520.7 808.6V814.7M553.7 808.6V814.7"/>
<text class="T" x="494.5" y="639.6">150</text><text class="T" x="494.5" y="697.6">100</text><text class="T" x="494.5" y="755.5">50</text><text class="T" x="494.5" y="813.4">0</text>
<path class="sl" d="M515 651.3H561.2"/><text class="S" x="538.5" y="648">0.0046</text>
<text class="C" x="517.9" y="836">Ctrl</text><text class="C" x="555.4" y="836">DTR</text>
<text class="Y" transform="translate(461,719.8) rotate(-90)">Vessel width (μm)</text>

<!-- ================= j ================= -->
<text class="L" x="602" y="609.5">j</text>
<text class="H" x="667.3" y="624.7">Ctrl</text>
<text class="H" x="798.3" y="624.7">DTR</text>
<g clip-path="url(#cJ1)">
 <rect x="601" y="632.4" width="132.6" height="170.9" fill="#070404"/>
 <rect x="601" y="632.4" width="132.6" height="170.9" filter="url(#fJbg)" opacity="0.35"/>
 <g stroke="#ff3a20" stroke-width="1.1" fill="none" opacity="0.8">
  <path d="M632 696 C 640 705, 650 712, 660 722 M645 700 L655 690 M635 715 L650 725 M665 705 L680 712 M640 740 L630 760 M625 745 L618 770 M660 760 L650 780 M622 708 L640 728 M670 690 L685 700"/>
 </g>
 <path d="M605.9 645.7 L644.7 644.5 L644.1 666.2 L643.1 685.5 L638.2 695.2 L622.1 692.8 L609.1 673.5 L602.7 661.4 Z" fill="#000" stroke="#2a38ff" stroke-width="2.6" stroke-linejoin="round"/>
 <path d="M604 648 L602.7 661.4 L609.1 673.5 L622.1 692.8 L632 694" stroke="#ff2a9a" stroke-width="2.6" fill="none"/>
 <path d="M641.5 762.8 L664.1 736.2 L690 724.2 L725.5 707.3 L732 719.3 L728.8 736.2 L709.4 753.1 L683.5 770 L660.9 784.5 L643.1 789.3 Z" fill="#000" stroke="#2a38ff" stroke-width="3.2" stroke-linejoin="round"/>
 <circle cx="665.7" cy="736.2" r="4" fill="#ff2a6a" filter="url(#bl2)"/>
 <path d="M683.5 702 L684.5 714" stroke="#ff2020" stroke-width="2.5"/>
 <path d="M651 654 L653 660" stroke="#ff2020" stroke-width="2"/>
 <g fill="#2fcf2f"><circle cx="658" cy="709" r="1.8"/><circle cx="624" cy="674" r="1.4"/><circle cx="648" cy="728" r="1.6"/><circle cx="630" cy="760" r="1.4"/></g>
 <rect x="640.8" y="791.6" width="79.9" height="5.5" fill="#fff"/>
</g>
<g clip-path="url(#cJ2)">
 <rect x="736.8" y="632.4" width="132.6" height="170.9" fill="#080505"/>
 <rect x="736.8" y="632.4" width="132.6" height="170.9" filter="url(#fJbg)" opacity="0.4"/>
 <g stroke="#ff5a20" stroke-width="1.2" fill="none" opacity="0.9">
  <path d="M795 690 C 805 700, 815 705, 830 712 M800 720 L815 740 M790 740 L805 755 M805 680 L820 690 M760 700 L770 715 M745 660 L755 650 M810 760 L800 775 M840 690 L855 685 M825 720 L840 705 M780 770 L790 785 M760 785 L770 795"/>
 </g>
 <g fill="#000" stroke="#ff45e6" stroke-width="4" stroke-linejoin="round">
  <path d="M780.5 642.1 L795 649.3 L793.4 666.2 L785.3 690.4 L777.3 709.7 L770.8 729 L764.3 748.3 L754.6 762.8 L746.5 760.4 L749.8 738.6 L753 709.7 L759.5 685.5 L767.5 663.8 Z"/>
  <path d="M854.8 700 L864.5 702.4 L861.3 719.3 L851.6 738.6 L841.9 758 L832.2 772.4 L812.8 779.7 L803.1 774.9 L806.3 760.4 L819.3 743.5 L835.4 724.2 L848.4 707.3 Z"/>
 </g>
 <g fill="none" stroke="#7a50ff" stroke-width="1.2">
  <path d="M780.5 642.1 L795 649.3 L793.4 666.2 L785.3 690.4 L777.3 709.7 L770.8 729 L764.3 748.3 L754.6 762.8 L746.5 760.4 L749.8 738.6 L753 709.7 L759.5 685.5 L767.5 663.8 Z"/>
  <path d="M854.8 700 L864.5 702.4 L861.3 719.3 L851.6 738.6 L841.9 758 L832.2 772.4 L812.8 779.7 L803.1 774.9 L806.3 760.4 L819.3 743.5 L835.4 724.2 L848.4 707.3 Z"/>
 </g>
 <g fill="#1d6a1d" stroke="#3ee83e" stroke-width="1.2">
  <circle cx="764" cy="669" r="2.6"/><circle cx="767" cy="678" r="2.6"/><circle cx="761" cy="690" r="2.6"/><circle cx="757" cy="702" r="2.4"/><circle cx="781" cy="650" r="2.4"/><circle cx="797" cy="673" r="2.6"/><circle cx="820" cy="676" r="2.6"/><circle cx="784" cy="736" r="2.4"/><circle cx="797" cy="742" r="2.4"/><circle cx="832" cy="742" r="2.4"/><circle cx="810" cy="708" r="2.2"/><circle cx="742" cy="736" r="2.4"/><circle cx="770" cy="660" r="2.2"/><circle cx="801" cy="715" r="2.2"/><circle cx="845" cy="676" r="2"/><circle cx="775" cy="772" r="2"/>
 </g>
 <rect x="768.5" y="791.6" width="79.9" height="5.5" fill="#fff"/>
</g>
<text x="735.2" y="825.5" font-size="19" text-anchor="middle"><tspan style="fill:#ee1c24">ICAM1</tspan> <tspan style="fill:#2bc62b">CD45</tspan> <tspan style="fill:#1f5fd6">CD31</tspan></text>

<rect class="bg" x="951.2" y="724.3" width="21" height="81.5"/>
<rect class="bb" x="982.9" y="683.6" width="21" height="122.2"/>
<path class="eg" d="M961.7 696.6V752M955.7 696.6H967.7M955.7 752H967.7"/>
<path d="M993.4 682.7V722.6M987.4 682.7H999.4M987.4 722.6H999.4" stroke="#fff" stroke-width="1.6" fill="none" opacity="0.8"/>
<g class="pg">
 <circle cx="958.3" cy="679.5" r="3.3"/><circle cx="963.1" cy="683.6" r="3.3"/><circle cx="961.7" cy="700" r="3.3"/><circle cx="961.7" cy="709.2" r="3.3"/><circle cx="962.3" cy="718.1" r="3.3"/><circle cx="953.4" cy="740.6" r="3.3"/><circle cx="968" cy="741" r="3.3"/><circle cx="955.1" cy="745.9" r="3.3"/><circle cx="968" cy="745.9" r="3.3"/><circle cx="961.7" cy="751.9" r="3.3"/><circle cx="961.2" cy="758" r="3.3"/>
</g>
<g class="pn">
 <rect x="987.5" y="660.7" width="6.2" height="6.2"/><rect x="993.3" y="665.5" width="6.2" height="6.2"/><rect x="983.6" y="684.9" width="6.2" height="6.2"/><rect x="997.2" y="683.6" width="6.2" height="6.2"/><rect x="984.3" y="692.1" width="6.2" height="6.2"/><rect x="994" y="692.1" width="6.2" height="6.2"/><rect x="989.1" y="696.9" width="6.2" height="6.2"/><rect x="984.3" y="701.7" width="6.2" height="6.2"/><rect x="995.6" y="701.7" width="6.2" height="6.2"/><rect x="990.8" y="706.6" width="6.2" height="6.2"/><rect x="985.9" y="711.4" width="6.2" height="6.2"/><rect x="996.6" y="711.4" width="6.2" height="6.2"/><rect x="991.4" y="718.6" width="6.2" height="6.2"/><rect x="987.5" y="724.7" width="6.2" height="6.2"/><rect x="985.9" y="731.9" width="6.2" height="6.2"/><rect x="995.6" y="730.7" width="6.2" height="6.2"/>
</g>
<path d="M993.4 682.7V722.6M987.4 682.7H999.4" stroke="#1b4b83" stroke-width="1.3" fill="none"/>
<path class="ax" d="M942.1 631.2V806.8M937.3 805.8H1009.4"/>
<path class="tk" d="M937.3 632.4H942.1M937.3 667.4H942.1M937.3 702H942.1M937.3 736.7H942.1M937.3 771.2H942.1M961.5 805.8V811.5M993.2 805.8V811.5"/>
<text class="T" x="936" y="637.2">100</text><text class="T" x="936" y="672.2">80</text><text class="T" x="936" y="706.8">60</text><text class="T" x="936" y="741.5">40</text><text class="T" x="936" y="776">20</text><text class="T" x="936" y="810.6">0</text>
<path class="sl" d="M955.1 651H1002.3"/><text class="S" x="978.3" y="647.5">0.0221</text>
<text class="C" x="959.1" y="836">Ctrl</text><text class="C" x="996.1" y="836">DTR</text>
<text class="Y" transform="translate(901,723.4) rotate(-90)">ICAM1<tspan dy="-6" font-size="11">+</tspan><tspan dy="6"> blood vessels (%)</tspan></text>

<!-- ================= k ================= -->
<text class="L" x="1097" y="610.7">k</text>
<text class="H" x="1173.3" y="624.7">Ctrl</text>
<text class="H" x="1298.4" y="624.7">DTR</text>
<rect x="1104.7" y="630.5" width="130.7" height="173.3" fill="#111"/>
<rect x="1104.7" y="630.5" width="130.7" height="173.3" filter="url(#fSpW)" mask="url(#mKc)"/>
<rect x="1178.5" y="791.6" width="52.9" height="5.5" fill="#fff"/>
<rect x="1237.8" y="630" width="129.9" height="175.5" fill="#161616"/>
<rect x="1237.8" y="630" width="129.9" height="175.5" filter="url(#fSpW2)" mask="url(#mKd)"/>
<rect x="1303" y="791.6" width="52.3" height="5.5" fill="#fff"/>
<rect x="1104.7" y="630.5" width="130.7" height="173.3" fill="none" stroke="#999" stroke-width="0.5"/>
<rect x="1237.8" y="630" width="129.9" height="175.5" fill="none" stroke="#999" stroke-width="0.5"/>
<text x="1236.3" y="824.3" font-size="19" text-anchor="middle" style="fill:#a0a0a0">Hoechst</text>

<rect class="bg" x="1458.4" y="774.1" width="20.9" height="33.3"/>
<rect x="1489.2" y="705.8" width="20.9" height="101.6" fill="#3b7fe0"/>
<path class="eg" d="M1468.9 762V785.8M1462.9 762H1474.9M1462.9 785.8H1474.9"/>
<path class="en" d="M1499.6 658.4V753.3M1493.6 658.4H1505.6M1493.6 753.3H1505.6"/>
<g class="pg">
 <circle cx="1462.1" cy="762.8" r="3.3"/><circle cx="1474.4" cy="759.2" r="3.3"/><circle cx="1469.2" cy="767.1" r="3.3"/><circle cx="1462.1" cy="770" r="3.3"/><circle cx="1475.3" cy="767.1" r="3.3"/><circle cx="1467.6" cy="773.6" r="3.3"/><circle cx="1462.1" cy="777.3" r="3.3"/><circle cx="1473.8" cy="777.7" r="3.3"/><circle cx="1467.6" cy="783.3" r="3.3"/><circle cx="1463" cy="786.9" r="3.3"/><circle cx="1473.2" cy="788.1" r="3.3"/><circle cx="1467" cy="790.5" r="3.3"/>
</g>
<g class="pn">
 <rect x="1489.8" y="655.4" width="6.2" height="6.2"/><rect x="1496.8" y="658.8" width="6.2" height="6.2"/><rect x="1503" y="660" width="6.2" height="6.2"/><rect x="1496.8" y="674.2" width="6.2" height="6.2"/><rect x="1496.8" y="706.6" width="6.2" height="6.2"/><rect x="1496.8" y="727.8" width="6.2" height="6.2"/><rect x="1496.8" y="760.9" width="6.2" height="6.2"/><rect x="1496.8" y="776.1" width="6.2" height="6.2"/>
</g>
<path class="ax" d="M1449.8 639.7V808.4M1445.5 807.4H1515.3"/>
<path class="tk" d="M1445.5 640.9H1449.8M1445.5 682.6H1449.8M1445.5 724.2H1449.8M1445.5 765.9H1449.8M1468.2 807.4V812.5M1499 807.4V812.5"/>
<text class="T" x="1443.5" y="645.7">40</text><text class="T" x="1443.5" y="687.4">30</text><text class="T" x="1443.5" y="729">20</text><text class="T" x="1443.5" y="770.7">10</text><text class="T" x="1443.5" y="812.2">0</text>
<path class="sl" d="M1462 650.5H1510"/><text class="S" x="1486.1" y="647">0.0046</text>
<text class="C" x="1465.8" y="836">Ctrl</text><text class="C" x="1502.5" y="836">DTR</text>
<text class="Y" transform="translate(1409,723.5) rotate(-90)">Hoechst area density (%)</text>
</svg>
</body></html>
